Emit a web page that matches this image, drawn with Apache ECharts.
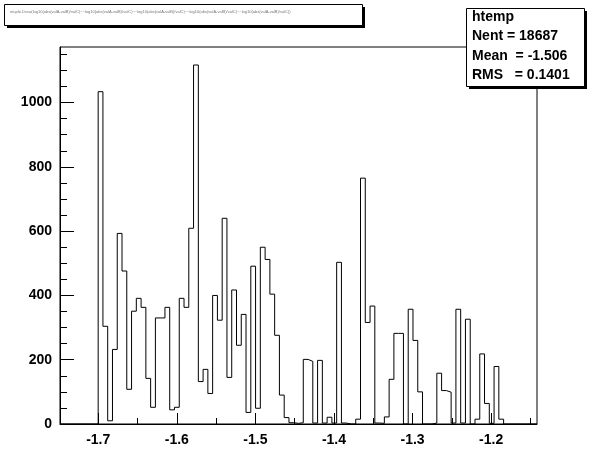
<!DOCTYPE html>
<html><head><meta charset="utf-8">
<script src="https://cdn.jsdelivr.net/npm/echarts@6/dist/echarts.min.js"></script>
<style>html,body{margin:0;padding:0;background:#fff}#c{width:596px;height:472px}</style>
</head><body><div id="c"></div>
<script>
// ---- data ----
const xMin = -1.7486;
const xMax = -1.1417;
const nBins = 100;
const binCounts = [
  0,0,0,0,0,0,0,0,
  1034,304,10,232,593,476,108,351,391,363,
  142,52,330,330,363,44,52,391,363,609,
  1117,132,170,95,400,323,640,145,417,245,
  341,36,491,49,550,512,404,276,90,20,
  4,2,4,201,195,3,198,3,21,3,
  503,3,0,0,15,765,316,367,3,2,
  22,139,282,282,0,357,260,100,0,0,
  3,158,104,99,3,357,3,326,0,15,
  218,64,2,179,15,
  0,0,0,0,0,0,0
];
const xMajorTicks = [-1.7,-1.6,-1.5,-1.4,-1.3,-1.2];
const xMinorTicks = [-1.65,-1.55,-1.45,-1.35,-1.25,-1.15];
const yMax = 1173;
const yMajorTicks = [0,200,400,600,800,1000];
const yMinorTicks = [50,100,150,250,300,350,450,500,550,650,700,750,850,900,950,1050,1100,1150];
const statsLines = ['htemp','Nent = 18687','Mean  = -1.506','RMS   = 0.1401'];
const titleText = 'ntuple.Draw(log10(abs(valA-valB)/valC)~~log10(abs(valA-valB)/valC)~~log10(abs(valA-valB)/valC)~~log10(abs(valA-valB)/valC)~~log10(abs(valA-valB)/valC))';

// ---- build histogram outline points from bins ----
const binWidth = (xMax - xMin) / nBins;
const pts = [[xMin, 0]];
for (let i = 0; i < nBins; i++) pts.push([xMin + i * binWidth, binCounts[i]]);
pts.push([xMax, 0]);

const FONT = '"Liberation Sans", Arial, Helvetica, sans-serif';
const chart = echarts.init(document.getElementById('c'), null, {renderer: 'canvas'});
const lab = {color: '#000', fontFamily: FONT, fontWeight: 'bold', fontSize: 14};

chart.setOption({
  animation: false,
  backgroundColor: '#fff',
  grid: {left: 60, top: 47, width: 477, height: 377, show: true, borderColor: '#000', borderWidth: 1,
         backgroundColor: 'transparent', containLabel: false, outerBoundsMode: 'none'},
  xAxis: [
    {type: 'value', min: xMin, max: xMax, position: 'bottom',
     axisLine: {show: true, onZero: false, lineStyle: {color: '#000', width: 1}},
     axisTick: {show: true, inside: true, length: 11, lineStyle: {color: '#000'}, customValues: xMajorTicks},
     axisLabel: Object.assign({show: true, margin: 9, customValues: xMajorTicks,
       formatter: v => v.toFixed(1)}, lab),
     splitLine: {show: false}, minorTick: {show: false}},
    {type: 'value', min: xMin, max: xMax, position: 'bottom', offset: 0,
     axisLine: {show: false},
     axisTick: {show: true, inside: true, length: 6, lineStyle: {color: '#000'}, customValues: xMinorTicks},
     axisLabel: {show: false, customValues: xMinorTicks},
     splitLine: {show: false}}
  ],
  yAxis: [
    {type: 'value', min: 0, max: yMax, position: 'left',
     axisLine: {show: true, onZero: false, lineStyle: {color: '#000', width: 1}},
     axisTick: {show: true, inside: true, length: 14, lineStyle: {color: '#000'}, customValues: yMajorTicks},
     axisLabel: Object.assign({show: true, margin: 8, customValues: yMajorTicks,
       formatter: v => String(Math.round(v))}, lab),
     splitLine: {show: false}},
    {type: 'value', min: 0, max: yMax, position: 'left', offset: 0,
     axisLine: {show: false},
     axisTick: {show: true, inside: true, length: 7, lineStyle: {color: '#000'}, customValues: yMinorTicks},
     axisLabel: {show: false, customValues: yMinorTicks},
     splitLine: {show: false}}
  ],
  series: [{
    type: 'line', xAxisIndex: 0, yAxisIndex: 0, step: 'end', data: pts,
    showSymbol: false, symbol: 'none', silent: true,
    lineStyle: {color: '#000', width: 1}, clip: true
  }],
  graphic: [
    // title box
    {type: 'rect', z: 100, shape: {x: 7, y: 7, width: 358, height: 21}, style: {fill: '#000'}},
    {type: 'rect', z: 101, shape: {x: 4.5, y: 4.5, width: 358, height: 21}, style: {fill: '#fff', stroke: '#000', lineWidth: 1}},
    {type: 'text', z: 102, x: 10, y: 12, style: {text: titleText, fontSize: 4, fontFamily: FONT, fill: '#777', textVerticalAlign: 'middle'}},
    // stats box
    {type: 'rect', z: 100, shape: {x: 469, y: 11, width: 118, height: 78}, style: {fill: '#000'}},
    {type: 'rect', z: 101, shape: {x: 466.5, y: 8.5, width: 118, height: 78}, style: {fill: '#fff', stroke: '#000', lineWidth: 1}},
    ...statsLines.map((t, i) => ({type: 'text', z: 102, x: 472, y: 17 + i * 19.5,
      style: {text: t, fontSize: 14, fontWeight: 'bold', fontFamily: FONT, fill: '#000', textVerticalAlign: 'middle'}}))
  ]
});
</script></body></html>
